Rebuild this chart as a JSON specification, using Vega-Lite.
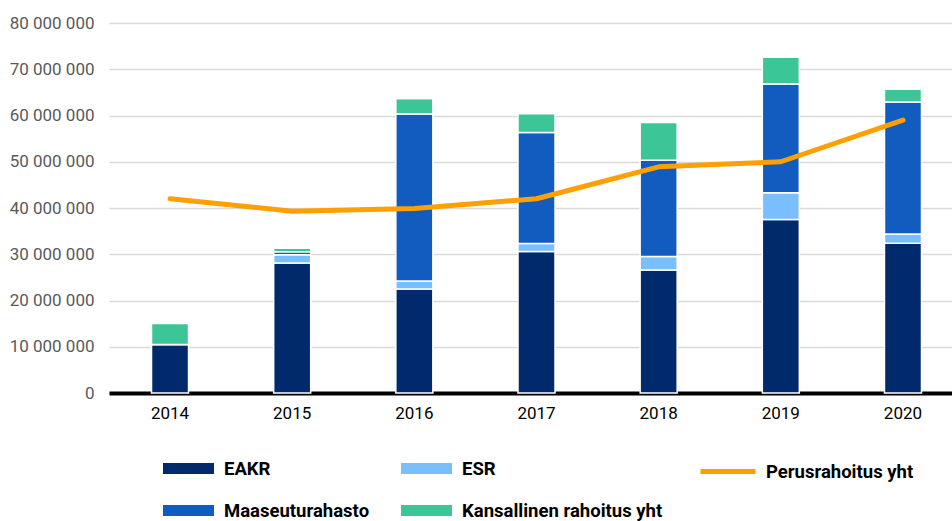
{
  "$schema": "https://vega.github.io/schema/vega-lite/v6.json",
  "autosize": {"type": "none"},
  "width": 843,
  "height": 370,
  "padding": {"left": 109, "top": 23, "right": 0, "bottom": 128},
  "background": "white",
  "config": {
    "view": {"stroke": null},
    "font": "Roboto",
    "locale": {"number": {"decimal": ",", "thousands": " ", "grouping": [3], "currency": ["", " €"]}}
  },
  "datasets": {
    "bars": [
      {"year": "2014", "series": "EAKR", "value": 10500000},
      {"year": "2014", "series": "ESR", "value": 0},
      {"year": "2014", "series": "Maaseuturahasto", "value": 0},
      {"year": "2014", "series": "Kansallinen rahoitus yht", "value": 4550000},
      {"year": "2015", "series": "EAKR", "value": 28100000},
      {"year": "2015", "series": "ESR", "value": 1800000},
      {"year": "2015", "series": "Maaseuturahasto", "value": 650000},
      {"year": "2015", "series": "Kansallinen rahoitus yht", "value": 750000},
      {"year": "2016", "series": "EAKR", "value": 22500000},
      {"year": "2016", "series": "ESR", "value": 1700000},
      {"year": "2016", "series": "Maaseuturahasto", "value": 36100000},
      {"year": "2016", "series": "Kansallinen rahoitus yht", "value": 3300000},
      {"year": "2017", "series": "EAKR", "value": 30600000},
      {"year": "2017", "series": "ESR", "value": 1700000},
      {"year": "2017", "series": "Maaseuturahasto", "value": 24000000},
      {"year": "2017", "series": "Kansallinen rahoitus yht", "value": 4100000},
      {"year": "2018", "series": "EAKR", "value": 26600000},
      {"year": "2018", "series": "ESR", "value": 2900000},
      {"year": "2018", "series": "Maaseuturahasto", "value": 20800000},
      {"year": "2018", "series": "Kansallinen rahoitus yht", "value": 8200000},
      {"year": "2019", "series": "EAKR", "value": 37500000},
      {"year": "2019", "series": "ESR", "value": 5800000},
      {"year": "2019", "series": "Maaseuturahasto", "value": 23500000},
      {"year": "2019", "series": "Kansallinen rahoitus yht", "value": 5800000},
      {"year": "2020", "series": "EAKR", "value": 32400000},
      {"year": "2020", "series": "ESR", "value": 2000000},
      {"year": "2020", "series": "Maaseuturahasto", "value": 28500000},
      {"year": "2020", "series": "Kansallinen rahoitus yht", "value": 2800000}
    ],
    "line": [
      {"year": "2014", "series": "Perusrahoitus yht", "value": 42000000},
      {"year": "2015", "series": "Perusrahoitus yht", "value": 39300000},
      {"year": "2016", "series": "Perusrahoitus yht", "value": 39900000},
      {"year": "2017", "series": "Perusrahoitus yht", "value": 42000000},
      {"year": "2018", "series": "Perusrahoitus yht", "value": 48900000},
      {"year": "2019", "series": "Perusrahoitus yht", "value": 50000000},
      {"year": "2020", "series": "Perusrahoitus yht", "value": 59000000}
    ]
  },
  "encoding": {
    "x": {
      "field": "year", "type": "ordinal",
      "scale": {"range": [0, 855], "paddingInner": 0.697, "paddingOuter": 0.348},
      "axis": {
        "title": null, "labelAngle": 0, "ticks": false,
        "domainColor": "#000000", "domainWidth": 4, "domainCap": "butt",
        "labelFontSize": 17, "labelColor": "#000000", "labelPadding": 12
      }
    }
  },
  "layer": [
    {
      "data": {"name": "bars"},
      "transform": [
        {"calculate": "indexof(['EAKR', 'ESR', 'Maaseuturahasto', 'Kansallinen rahoitus yht'], datum.series)", "as": "stackRank"}
      ],
      "mark": {"type": "bar", "stroke": "white", "strokeWidth": 1.5},
      "encoding": {
        "y": {
          "field": "value", "type": "quantitative", "stack": "zero",
          "scale": {"domain": [0, 80000000], "nice": false},
          "axis": {
            "title": null, "values": [0, 10000000, 20000000, 30000000, 40000000, 50000000, 60000000, 70000000, 80000000],
            "format": ",d", "domain": false, "ticks": false,
            "gridColor": "#d9d9d9", "gridWidth": 1.5,
            "labelFontSize": 17, "labelColor": "#595959", "labelPadding": 15
          }
        },
        "order": {"field": "stackRank", "type": "quantitative", "sort": "ascending"},
        "color": {
          "field": "series", "type": "nominal",
          "scale": {
            "domain": ["EAKR", "Maaseuturahasto", "ESR", "Kansallinen rahoitus yht"],
            "range": ["#002A6C", "#125BBF", "#79BEFF", "#3CC596"]
          },
          "legend": {
            "title": null, "orient": "none", "legendX": 54, "legendY": 420,
            "columns": 2, "columnPadding": 31, "rowPadding": 7,
            "symbolType": "M-1,-0.22H1V0.22H-1Z", "symbolSize": 2601, "symbolStrokeWidth": 0,
            "labelFontSize": 18.5, "labelFontWeight": "bold", "labelColor": "#000000", "labelOffset": 10, "labelLimit": 400
          }
        }
      }
    },
    {
      "data": {"name": "line"},
      "mark": {"type": "line", "strokeWidth": 5, "strokeCap": "round", "strokeJoin": "round"},
      "encoding": {
        "y": {"field": "value", "type": "quantitative"},
        "stroke": {
          "field": "series", "type": "nominal",
          "scale": {"range": ["#FFA000"]},
          "legend": {
            "title": null, "orient": "none", "legendX": 589, "legendY": 418.5,
            "symbolType": "stroke", "symbolSize": 3025, "symbolStrokeWidth": 5,
            "labelFontSize": 18.5, "labelFontWeight": "bold", "labelColor": "#000000", "labelOffset": 8, "labelLimit": 400
          }
        }
      }
    }
  ]
}
